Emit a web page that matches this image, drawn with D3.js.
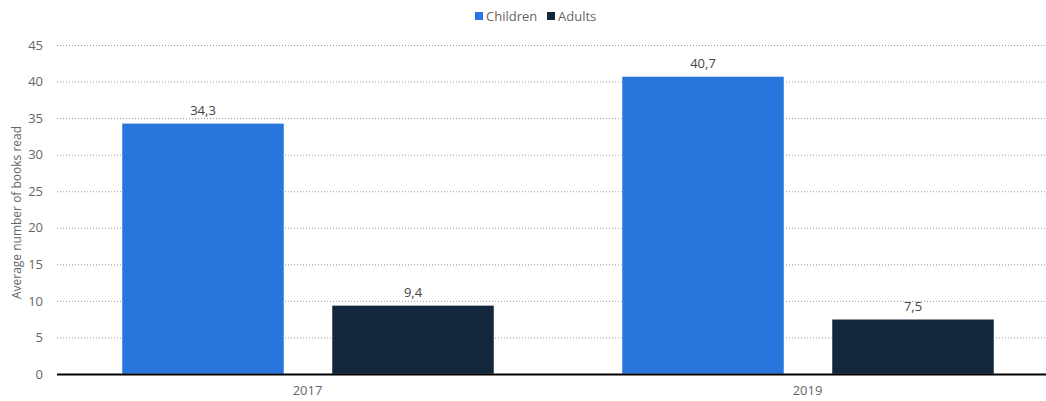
<!DOCTYPE html>
<html><head><meta charset="utf-8">
<script src="https://cdn.jsdelivr.net/npm/d3@7"></script>
<style>body{margin:0;background:#fff;font-family:"Open Sans",sans-serif;}</style>
</head><body><svg id="c" width="1046" height="401"></svg>
<script>
const categories = ["2017", "2019"];
const seriesNames = ["Children", "Adults"];
const children = [34.3, 40.7];
const adults = [9.4, 7.5];
const yTicks = [0, 5, 10, 15, 20, 25, 30, 35, 40, 45];
const colors = ["#2876dd", "#12263c"];

(function(){
const svg = d3.select("#c");
const mLeft = 57, mRight = 1046, mTop = 45, mBottom = 374;
const y = d3.scaleLinear().domain([0, 45]).range([mBottom, mTop]);
const x = d3.scaleBand().domain(categories).range([57.5, 1057.5]).paddingInner(0).paddingOuter(0);
const xi = d3.scaleBand().domain(seriesNames).range([65, 437]).paddingInner(48/210).paddingOuter(0);
const fmt = v => String(v).replace(".", ",");

// gridlines
svg.append("g").selectAll("line").data(yTicks.filter(d => d > 0)).join("line")
  .attr("x1", mLeft).attr("x2", mRight).attr("y1", d => y(d) + 0.5).attr("y2", d => y(d) + 0.5)
  .attr("stroke", "#999").attr("stroke-width", 1).attr("stroke-dasharray", "1,2");

// y axis
const ya = svg.append("g").attr("transform", `translate(${mLeft},0)`)
  .call(d3.axisLeft(y).tickValues(yTicks).tickSize(0).tickPadding(14));
ya.select(".domain").remove();
ya.selectAll("text").attr("fill", "#666").style("font-size", "13px").style("font-family", "Open Sans");

svg.append("text").attr("transform", `translate(21,${(mTop+mBottom)/2 + 3}) rotate(-90)`)
  .attr("text-anchor", "middle").attr("fill", "#666").style("font-size", "12px")
  .text("Average number of books read");

// bars
const data = categories.map((c, i) => ({cat: c, vals: [
  {s: "Children", v: children[i], col: colors[0]},
  {s: "Adults", v: adults[i], col: colors[1]}]}));
const g = svg.append("g").selectAll("g").data(data).join("g")
  .attr("transform", d => `translate(${x(d.cat) - 0.5},0)`);
g.selectAll("rect").data(d => d.vals).join("rect")
  .attr("x", d => xi(d.s)).attr("width", xi.bandwidth())
  .attr("y", d => y(d.v)).attr("height", d => y(0) - y(d.v))
  .attr("fill", d => d.col).attr("stroke", "#fff").attr("stroke-width", 0.5);
g.selectAll("text").data(d => d.vals).join("text")
  .attr("x", d => xi(d.s) + xi.bandwidth() / 2).attr("y", d => y(d.v) - 8)
  .attr("text-anchor", "middle").attr("fill", "#444").style("font-size", "13px")
  .text(d => fmt(d.v));

// baseline
svg.append("line").attr("x1", mLeft).attr("x2", mRight).attr("y1", mBottom + 0.5).attr("y2", mBottom + 0.5)
  .attr("stroke", "#000").attr("stroke-width", 2);

// x axis labels
const xa = svg.append("g").attr("transform", `translate(0,${mBottom})`)
  .call(d3.axisBottom(x).tickSize(0).tickPadding(12));
xa.select(".domain").remove();
xa.selectAll("text").attr("fill", "#666").style("font-size", "13px").style("font-family", "Open Sans");

// legend
const leg = svg.append("g");
const legItems = [{n: "Children", x: 475}, {n: "Adults", x: 547}];
legItems.forEach((d, i) => {
  leg.append("rect").attr("x", d.x).attr("y", 12).attr("width", 8).attr("height", 8).attr("fill", colors[i]);
  leg.append("text").attr("x", d.x + 11).attr("y", 20.5).attr("fill", "#666").style("font-size", "13px").text(d.n);
});
})();
</script></body></html>
